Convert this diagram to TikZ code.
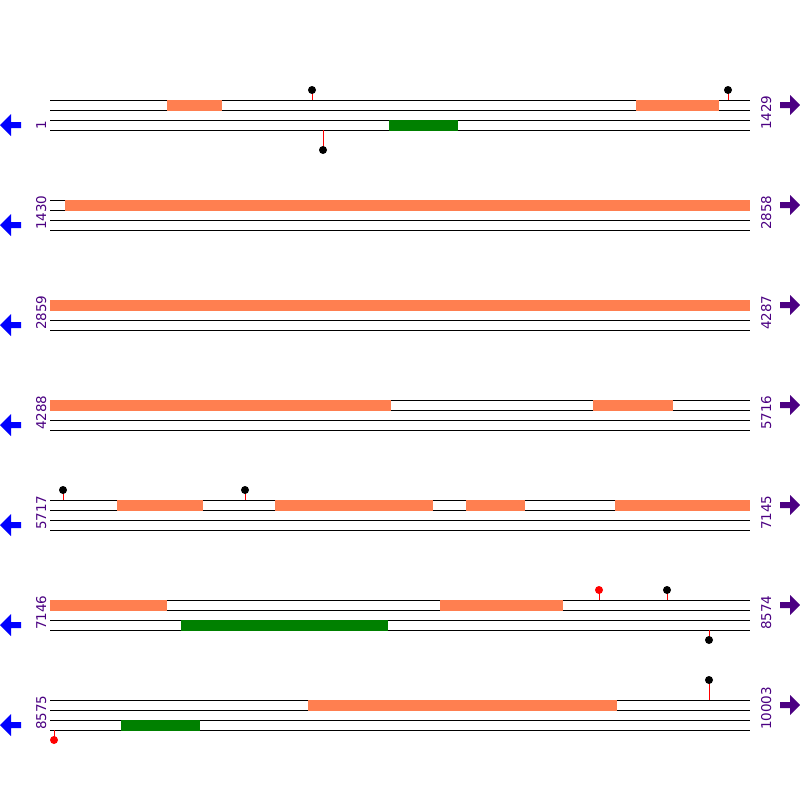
\documentclass[tikz,border=0pt]{standalone}
\usepackage{fontspec}
\setsansfont{DejaVu Sans}
\definecolor{my_coral}{HTML}{FF7F50}
\definecolor{my_green}{HTML}{008000}
\definecolor{my_indigo}{HTML}{4B0082}
\definecolor{my_blue}{HTML}{0000FF}
\definecolor{my_red}{HTML}{FF0000}

\begin{document}
\begin{tikzpicture}[
    x=1pt, y=-1pt,
    strand/.style={line width=1pt, black},
    fwdbar/.style={fill=my_coral},
    revbar/.style={fill=my_green},
    stem/.style={line width=1pt, my_red},
    seqlabel/.style={rotate=90, anchor=base west, inner sep=0pt,
        font=\sffamily\fontsize{13.5}{14}\selectfont, text=my_indigo}
]
\useasboundingbox[fill=white] (0, 0) rectangle (800, 800);

% ===== Zeilen: vier Linien, Positionen, Pfeile =====
\foreach \y/\a/\b [count=\i] in {100/1/1429, 200/1430/2858, 300/2859/4287,
        400/4288/5716, 500/5717/7145, 600/7146/8574, 700/8575/10003} {
    \foreach \k in {0, 10, 20, 30}
        \draw[strand] (50, \y+\k) -- (750, \y+\k);
    \node[seqlabel] (start\i) at (46, \y+30) {\a};
    \node[seqlabel] (end\i) at (771, \y+30) {\b};
    % Pfeile
    \fill[my_blue] (0, \y+25) -- (11, \y+14) -- (11, \y+22) -- (21, \y+22)
        -- (21, \y+28) -- (11, \y+28) -- (11, \y+36) -- cycle;
    \fill[my_indigo] (800, \y+5) -- (790, \y-5) -- (790, \y+2) -- (780, \y+2)
        -- (780, \y+8) -- (790, \y+8) -- (790, \y+15) -- cycle;
}

% ===== Balken oben (orange) =====
\foreach \y/\p/\q in {100/167/222, 100/636/719, 200/65/750, 300/50/750,
        400/50/391, 400/593/673, 500/117/203, 500/275/433, 500/466/525,
        500/615/750, 600/50/167, 600/440/563, 700/308/617}
    \fill[fwdbar] (\p, \y-0.5) rectangle (\q, \y+10.5);

% ===== Balken unten (gruen) =====
\foreach \y/\p/\q in {120/389/458, 620/181/388, 720/121/200}
    \fill[revbar] (\p, \y-0.5) rectangle (\q, \y+10.5);

% ===== Marken =====
\foreach \x/\s/\e/\c in {312/100/90/black, 728/100/90/black, 323/130/150/black,
        63/500/490/black, 245/500/490/black, 599/600/590/my_red,
        667/600/590/black, 709/630/640/black, 709/700/680/black,
        54/730/740/my_red} {
    \draw[stem] (\x, \s) -- (\x, \e);
    \fill[\c] (\x, \e) circle (4);
}

\end{tikzpicture}
\end{document}
